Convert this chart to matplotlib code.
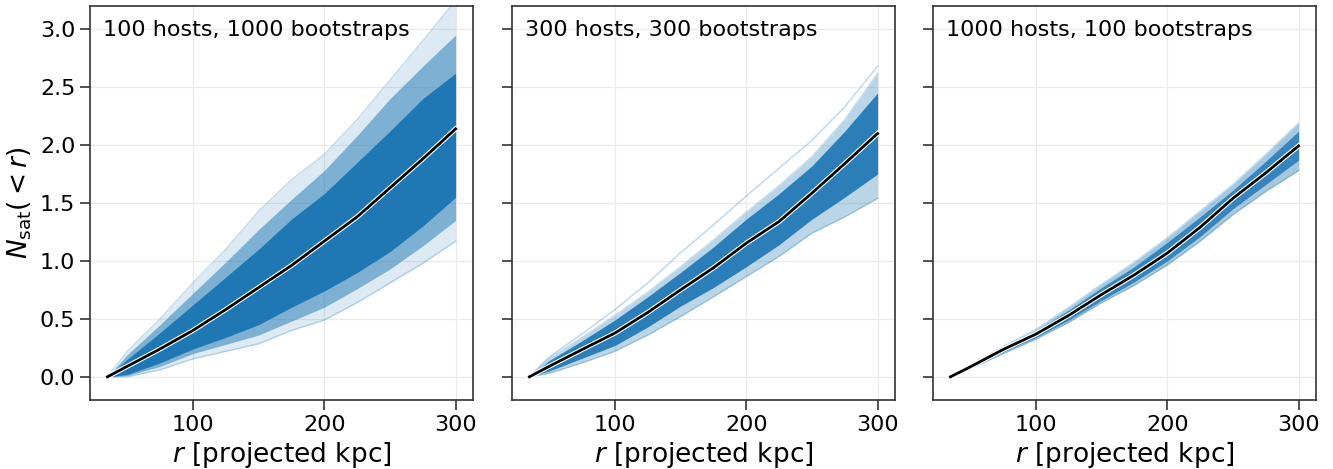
import matplotlib
matplotlib.use("Agg")
import matplotlib.pyplot as plt
import matplotlib.patheffects as pe

# radii (projected kpc) at which curves were read
R = [35, 50, 75, 100, 125, 150, 175, 200, 225, 250, 275, 300]

titles = ["100 hosts, 1000 bootstraps", "300 hosts, 300 bootstraps", "1000 hosts, 100 bootstraps"]

# panel 1
p1_upper = [0, 0.22, 0.50, 0.81, 1.10, 1.43, 1.70, 1.92, 2.22, 2.56, 2.90, 3.25]
p1_upper_mid = [0, 0.19, 0.45, 0.72, 0.99, 1.27, 1.53, 1.78, 2.08, 2.40, 2.68, 2.95]
p1_upper_core = [0, 0.15, 0.38, 0.62, 0.86, 1.10, 1.36, 1.58, 1.85, 2.12, 2.40, 2.62]
p1_median = [0, 0.09, 0.24, 0.40, 0.58, 0.77, 0.96, 1.17, 1.38, 1.63, 1.88, 2.14]
p1_lower_core = [0, 0.02, 0.12, 0.24, 0.34, 0.45, 0.60, 0.74, 0.90, 1.08, 1.30, 1.55]
p1_lower_mid = [0, 0.01, 0.09, 0.20, 0.28, 0.36, 0.48, 0.60, 0.76, 0.93, 1.13, 1.35]
p1_lower = [0, 0.0, 0.06, 0.155, 0.22, 0.285, 0.40, 0.49, 0.64, 0.81, 0.98, 1.17]

# panel 2
p2_upper = [0, 0.16, 0.34, 0.53, 0.73, 0.95, 1.18, 1.42, 1.65, 1.90, 2.22, 2.62]
p2_upper_core = [0, 0.14, 0.31, 0.49, 0.69, 0.90, 1.12, 1.36, 1.58, 1.82, 2.12, 2.45]
p2_median = [0, 0.09, 0.235, 0.377, 0.555, 0.75, 0.94, 1.153, 1.34, 1.585, 1.84, 2.10]
p2_lower_core = [0, 0.05, 0.16, 0.27, 0.43, 0.61, 0.77, 0.95, 1.14, 1.36, 1.55, 1.75]
p2_lower = [0, 0.03, 0.12, 0.22, 0.36, 0.52, 0.69, 0.865, 1.04, 1.24, 1.38, 1.54]
p2_outlier = [0, 0.17, 0.37, 0.58, 0.81, 1.07, 1.31, 1.56, 1.80, 2.04, 2.33, 2.68]

# panel 3
p3_upper = [0, 0.10, 0.26, 0.41, 0.60, 0.80, 0.99, 1.20, 1.43, 1.66, 1.92, 2.19]
p3_upper_core = [0, 0.095, 0.25, 0.395, 0.575, 0.77, 0.95, 1.16, 1.38, 1.61, 1.86, 2.12]
p3_median = [0, 0.085, 0.235, 0.368, 0.53, 0.71, 0.88, 1.067, 1.29, 1.54, 1.76, 1.993]
p3_lower_core = [0, 0.075, 0.215, 0.34, 0.49, 0.66, 0.82, 1.00, 1.21, 1.45, 1.66, 1.87]
p3_lower = [0, 0.07, 0.20, 0.325, 0.47, 0.64, 0.79, 0.965, 1.17, 1.40, 1.60, 1.78]

panels = [
    dict(up=p1_upper, upm=p1_upper_mid, upc=p1_upper_core, med=p1_median,
         loc=p1_lower_core, lom=p1_lower_mid, lo=p1_lower, outl=None,
         a_out=0.15, a_mid=0.5, a_core=1.0),
    dict(up=p2_upper, upm=None, upc=p2_upper_core, med=p2_median,
         loc=p2_lower_core, lom=None, lo=p2_lower, outl=p2_outlier,
         a_out=0.3, a_mid=0, a_core=0.92),
    dict(up=p3_upper, upm=None, upc=p3_upper_core, med=p3_median,
         loc=p3_lower_core, lom=None, lo=p3_lower, outl=None,
         a_out=0.4, a_mid=0, a_core=0.82),
]

yticks = [0.0, 0.5, 1.0, 1.5, 2.0, 2.5, 3.0]
xticks = [100, 200, 300]

BLUE = "#1f77b4"
W, H = 1333, 469
fig = plt.figure(figsize=(W / 100, H / 100), dpi=100)
lefts = [90, 512, 933]
for i, p in enumerate(panels):
    ax = fig.add_axes([lefts[i] / W, (H - 400) / H, 383 / W, 394 / H])
    ax.set_xlim(21.75, 313.25)
    ax.set_ylim(-0.2, 3.2)
    ax.grid(True, color="#ebebeb", lw=0.9, zorder=0)
    ax.set_axisbelow(True)
    ax.fill_between(R, p["lo"], p["up"], color=BLUE, alpha=p["a_out"], lw=0, zorder=2)
    ax.plot(R, p["up"], color=BLUE, alpha=0.25, lw=1, zorder=2)
    ax.plot(R, p["lo"], color=BLUE, alpha=0.25, lw=1, zorder=2)
    if p["upm"] is not None:
        ax.fill_between(R, p["lom"], p["upm"], color=BLUE, alpha=p["a_mid"], lw=0, zorder=2)
    if p["outl"] is not None:
        ax.plot(R, p["outl"], color=BLUE, alpha=0.25, lw=1.2, zorder=2)
    ax.fill_between(R, p["loc"], p["upc"], color=BLUE, alpha=p["a_core"], lw=0, zorder=3)
    ax.plot(R, p["med"], color="black", lw=2, zorder=5,
            path_effects=[pe.Stroke(linewidth=3.6, foreground="white"), pe.Normal()])
    ax.set_xticks(xticks)
    ax.set_yticks(yticks)
    ax.tick_params(direction="out", length=7, width=1.2, labelsize=16, color="#333333")
    if i == 0:
        ax.set_yticklabels([f"{v:.1f}" for v in yticks])
        ax.set_ylabel(r"$N_{\rm sat}(<r)$", fontsize=19)
    else:
        ax.set_yticklabels([])
    ax.set_xlabel(r"$r$ [projected kpc]", fontsize=19)
    for s in ax.spines.values():
        s.set_color("#333333")
        s.set_linewidth(1.2)
    ax.text(0.035, 0.965, titles[i], transform=ax.transAxes, fontsize=16,
            va="top", ha="left", zorder=6)

fig.savefig("out.png", dpi=100)
